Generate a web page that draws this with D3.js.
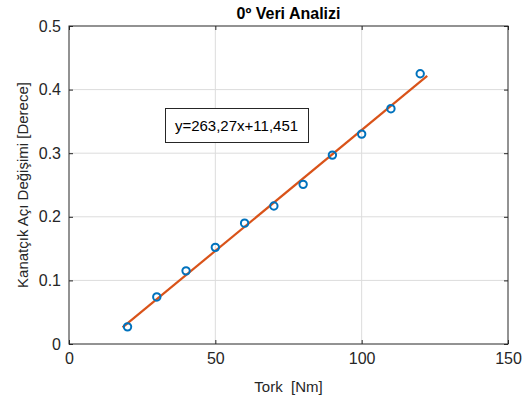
<!DOCTYPE html>
<meta charset="utf-8">
<style>
html, body { margin: 0; padding: 0; background: #fff; overflow: hidden; }
svg { display: block; font-family: "Liberation Sans", Arial, sans-serif; }
.tick text { fill: #262626; font-size: 16px; }
.grid line { stroke: #dcdcdc; stroke-width: 1; }
</style>
<svg width="531" height="402"></svg>
<script src="https://d3js.org/d3.v7.min.js"></script>
<script>

// measured torque vs. flap angle change
var torque = [20, 30, 40, 50, 60, 70, 80, 90, 100, 110, 120];
var angle = [0.027, 0.074, 0.115, 0.152, 0.190, 0.217, 0.251, 0.297, 0.330, 0.370, 0.425];

// fit: torque = 263.27 * angle + 11.451, drawn over this torque span
var fitSlope = 263.27, fitIntercept = 11.451;
var fitSpan = [18.3, 122.4];

var xTicks = [0, 50, 100, 150];
var yTicks = [0, 0.1, 0.2, 0.3, 0.4, 0.5];

var svg = d3.select("svg");
// note: "top" is taken by window.top, so use plot* names
var plotL = 69, plotR = 508, plotT = 26, plotB = 344;

var x = d3.scaleLinear().domain([0, 150]).range([plotL, plotR]);
var y = d3.scaleLinear().domain([0, 0.5]).range([plotB, plotT]);

// grid
svg.append("g").attr("class", "grid")
  .selectAll("line").data(xTicks.slice(1, -1)).enter().append("line")
    .attr("x1", d => x(d)).attr("x2", d => x(d))
    .attr("y1", plotT).attr("y2", plotB);
svg.append("g").attr("class", "grid")
  .selectAll("line").data(yTicks.slice(1, -1)).enter().append("line")
    .attr("y1", d => y(d)).attr("y2", d => y(d))
    .attr("x1", plotL).attr("x2", plotR);

// axes, ticks pointing inward like matlab
var fmtY = d => d === 0 ? "0" : d3.format(".1f")(d);
svg.append("g")
  .attr("transform", "translate(0," + plotB + ")")
  .call(d3.axisBottom(x).tickValues(xTicks).tickSizeInner(-4).tickSizeOuter(0).tickPadding(9))
  .call(g => g.select(".domain").remove())
  .call(g => g.selectAll("line").attr("stroke", "#262626"));
svg.append("g")
  .attr("transform", "translate(0," + plotT + ")")
  .call(d3.axisTop(x).tickValues(xTicks).tickSizeInner(-4).tickSizeOuter(0).tickFormat(""))
  .call(g => g.select(".domain").remove())
  .call(g => g.selectAll("line").attr("stroke", "#262626"));
svg.append("g")
  .attr("transform", "translate(" + plotL + ",0)")
  .call(d3.axisLeft(y).tickValues(yTicks).tickFormat(fmtY).tickSizeInner(-4).tickSizeOuter(0).tickPadding(8))
  .call(g => g.select(".domain").remove())
  .call(g => g.selectAll("line").attr("stroke", "#262626"));
svg.append("g")
  .attr("transform", "translate(" + plotR + ",0)")
  .call(d3.axisRight(y).tickValues(yTicks).tickSizeInner(-4).tickSizeOuter(0).tickFormat(""))
  .call(g => g.select(".domain").remove())
  .call(g => g.selectAll("line").attr("stroke", "#262626"));

svg.append("rect")
  .attr("x", plotL).attr("y", plotT)
  .attr("width", plotR - plotL).attr("height", plotB - plotT)
  .attr("fill", "none").attr("stroke", "#262626").attr("stroke-width", 1);

// fit line
var line = d3.line()
  .x(d => x(d))
  .y(d => y((d - fitIntercept) / fitSlope));
svg.append("path")
  .datum(fitSpan)
  .attr("d", line)
  .attr("fill", "none")
  .attr("stroke", "#D95319")
  .attr("stroke-width", 2.2);

// data points
svg.append("g").selectAll("circle")
  .data(torque).enter().append("circle")
    .attr("cx", d => x(d))
    .attr("cy", (d, i) => y(angle[i]))
    .attr("r", 3.7)
    .attr("fill", "none")
    .attr("stroke", "#0072BD")
    .attr("stroke-width", 2);

// equation box
svg.append("rect")
  .attr("x", 165.5).attr("y", 108.5)
  .attr("width", 143).attr("height", 34)
  .attr("fill", "#fff").attr("stroke", "#262626").attr("stroke-width", 1);
svg.append("text")
  .attr("x", 236.5).attr("y", 131)
  .attr("text-anchor", "middle")
  .attr("font-size", 15)
  .attr("fill", "#000")
  .text("y=263,27x+11,451");

// titles
svg.append("text")
  .attr("x", (plotL + plotR) / 2).attr("y", 19)
  .attr("text-anchor", "middle")
  .attr("font-size", 16).attr("font-weight", "bold")
  .attr("fill", "#000")
  .text("0º Veri Analizi");
svg.append("text")
  .attr("x", (plotL + plotR) / 2).attr("y", 392)
  .attr("text-anchor", "middle")
  .attr("font-size", 15).attr("fill", "#262626")
  .attr("xml:space", "preserve")
  .text("Tork  [Nm]");
svg.append("text")
  .attr("transform", "translate(28," + (plotT + plotB) / 2 + ") rotate(-90)")
  .attr("text-anchor", "middle")
  .attr("font-size", 15).attr("fill", "#262626")
  .text("Kanatçık Açı Değişimi [Derece]");

</script>
